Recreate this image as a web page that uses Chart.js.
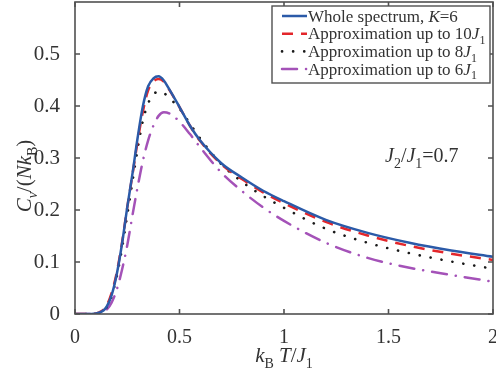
<!DOCTYPE html>
<html>
<head>
<meta charset="utf-8">
<script src="https://cdn.jsdelivr.net/npm/chart.js@4.4.1/dist/chart.umd.min.js"></script>
<style>
  html, body { margin: 0; padding: 0; background: #fff; }
  #wrap { width: 496px; height: 378px; position: relative; }
</style>
</head>
<body>
<div id="wrap"><canvas id="cvChart" width="496" height="378"></canvas></div>
<script>
// Data (k_B T / J_1 vs C_v / (N k_B))
const tempValues = [0, 0.05, 0.1, 0.125, 0.15, 0.175, 0.2, 0.225, 0.25, 0.275, 0.3, 0.325, 0.35, 0.375, 0.4, 0.425, 0.45, 0.5, 0.55, 0.6, 0.7, 0.8, 0.9, 1.0, 1.2, 1.4, 1.6, 1.8, 2.0];
const wholeSpectrum = [0, 0, 0.001, 0.004, 0.013, 0.036, 0.077, 0.135, 0.205, 0.27, 0.34, 0.4, 0.438, 0.453, 0.457, 0.449, 0.433, 0.398, 0.362, 0.333, 0.29, 0.262, 0.237, 0.217, 0.181, 0.156, 0.137, 0.122, 0.110];
const approx10J = [0, 0, 0.001, 0.005, 0.015, 0.04, 0.08, 0.137, 0.205, 0.268, 0.333, 0.39, 0.43, 0.447, 0.452, 0.447, 0.432, 0.398, 0.362, 0.332, 0.288, 0.259, 0.234, 0.213, 0.177, 0.151, 0.131, 0.116, 0.104];
const approx8J = [0, 0, 0.001, 0.004, 0.012, 0.034, 0.072, 0.126, 0.19, 0.255, 0.318, 0.372, 0.405, 0.422, 0.428, 0.425, 0.416, 0.395, 0.366, 0.337, 0.288, 0.254, 0.227, 0.204, 0.164, 0.137, 0.117, 0.101, 0.087];
const approx6J = [0, 0, 0, 0.003, 0.008, 0.022, 0.047, 0.085, 0.132, 0.19, 0.245, 0.295, 0.334, 0.362, 0.381, 0.388, 0.386, 0.37, 0.346, 0.32, 0.272, 0.236, 0.205, 0.179, 0.137, 0.108, 0.089, 0.075, 0.062];

const xTicks = [0, 0.5, 1, 1.5, 2];
const yTicks = [0, 0.1, 0.2, 0.3, 0.4, 0.5];

// Series styles
const SERIF = '"Liberation Serif", "DejaVu Serif", serif';
const series = [
  { data: wholeSpectrum, color: '#2b5aa8', dash: [], cap: 'butt', width: 2.5,
    label: [['Whole spectrum, ', 'n'], ['K', 'i'], ['=6', 'n']] },
  { data: approx10J, color: '#e3262b', dash: [11, 8], cap: 'butt', width: 2.5,
    label: [['Approximation up to 10', 'n'], ['J', 'i'], ['1', 's']] },
  { data: approx8J, color: '#1a1a1a', dash: [0.1, 11], cap: 'round', width: 2.6,
    label: [['Approximation up to 8', 'n'], ['J', 'i'], ['1', 's']] },
  { data: approx6J, color: '#a452b8', dash: [15, 9, 0.1, 9], cap: 'round', width: 2.5,
    label: [['Approximation up to 6', 'n'], ['J', 'i'], ['1', 's']] }
];

function toPoints(ys) {
  return tempValues.map((t, i) => ({ x: t, y: ys[i] }));
}

// Draw text made of parts: n = normal, i = italic, s = subscript, si = italic subscript
function fontFor(k, size) {
  const sub = k === 's' || k === 'si';
  const it = k === 'i' || k === 'si';
  return (it ? 'italic ' : '') + Math.round(sub ? size * 0.68 : size) + 'px ' + SERIF;
}
function richWidth(ctx, parts, size) {
  let w = 0;
  parts.forEach(([t, k]) => {
    ctx.font = fontFor(k, size);
    w += ctx.measureText(t).width;
  });
  return w;
}
function drawRich(ctx, parts, x, y, size) {
  let cx = x;
  ctx.textBaseline = 'alphabetic';
  ctx.textAlign = 'left';
  parts.forEach(([t, k]) => {
    ctx.font = fontFor(k, size);
    const dy = (k === 's' || k === 'si') ? size * 0.28 : 0;
    ctx.fillText(t, cx, y + dy);
    cx += ctx.measureText(t).width;
  });
  return cx - x;
}

// Box, inward ticks, axis titles, legend and annotation
const decorPlugin = {
  id: 'decor',
  afterDraw(chart) {
    const ctx = chart.ctx;
    const a = chart.chartArea;
    const xs = chart.scales.x, ys = chart.scales.y;
    ctx.save();
    ctx.strokeStyle = '#505050';
    ctx.lineWidth = 1.6;
    ctx.strokeRect(a.left, a.top, a.right - a.left, a.bottom - a.top);
    ctx.beginPath();
    xTicks.forEach(v => {
      const px = xs.getPixelForValue(v);
      ctx.moveTo(px, a.bottom); ctx.lineTo(px, a.bottom - 5);
      ctx.moveTo(px, a.top); ctx.lineTo(px, a.top + 5);
    });
    yTicks.forEach(v => {
      const py = ys.getPixelForValue(v);
      ctx.moveTo(a.left, py); ctx.lineTo(a.left + 5, py);
      ctx.moveTo(a.right, py); ctx.lineTo(a.right - 5, py);
    });
    ctx.stroke();

    ctx.fillStyle = '#333';
    // x title
    const xt = [['k', 'i'], ['B', 's'], [' T', 'i'], ['/', 'n'], ['J', 'i'], ['1', 's']];
    const xw = richWidth(ctx, xt, 21);
    drawRich(ctx, xt, (a.left + a.right) / 2 - xw / 2, 362, 21);
    // y title (rotated)
    const yt = [['C', 'i'], ['v', 'si'], ['/(', 'n'], ['N', 'i'], ['k', 'i'], ['B', 's'], [')', 'n']];
    const yw = richWidth(ctx, yt, 21);
    ctx.save();
    ctx.translate(31, 176);
    ctx.rotate(-Math.PI / 2);
    drawRich(ctx, yt, -yw / 2, 0, 21);
    ctx.restore();
    // annotation
    drawRich(ctx, [['J', 'i'], ['2', 's'], ['/', 'n'], ['J', 'i'], ['1', 's'], ['=0.7', 'n']], 385, 162, 20);

    // legend
    const lx = 272, ly = 6, lw = 218, lh = 77;
    ctx.fillStyle = '#fff';
    ctx.fillRect(lx, ly, lw, lh);
    ctx.strokeStyle = '#505050';
    ctx.lineWidth = 1.4;
    ctx.strokeRect(lx, ly, lw, lh);
    series.forEach((s, i) => {
      const yy = ly + 10 + i * 17.7;
      ctx.beginPath();
      ctx.strokeStyle = s.color;
      ctx.lineWidth = s.width;
      ctx.lineCap = s.cap;
      ctx.setLineDash(s.dash);
      ctx.moveTo(282, yy);
      ctx.lineTo(307, yy);
      ctx.stroke();
      ctx.setLineDash([]);
      ctx.fillStyle = '#333';
      drawRich(ctx, s.label, 308, yy + 5.5, 17);
    });
    ctx.restore();
  }
};

// keep plot area fixed: no extra room for half tick labels
function noEdgePadding(scale) {
  scale.paddingTop = 0;
  scale.paddingBottom = 0;
  scale.paddingLeft = 0;
  scale.paddingRight = 0;
}

const ctx = document.getElementById('cvChart').getContext('2d');
new Chart(ctx, {
  type: 'line',
  data: {
    datasets: series.map(s => ({
      data: toPoints(s.data),
      borderColor: s.color,
      borderWidth: s.width,
      borderDash: s.dash,
      borderCapStyle: s.cap,
      pointRadius: 0,
      fill: false,
      cubicInterpolationMode: 'monotone'
    }))
  },
  options: {
    responsive: false,
    animation: false,
    layout: { padding: { left: 0, right: 3, top: 2, bottom: 0 } },
    plugins: { legend: { display: false }, tooltip: { enabled: false } },
    scales: {
      x: {
        type: 'linear', min: 0, max: 2,
        afterFit: scale => { scale.height = 64; noEdgePadding(scale); },
        grid: { display: false },
        border: { display: false },
        ticks: {
          stepSize: 0.5, padding: 4, color: '#333', maxRotation: 0,
          font: { family: SERIF, size: 20 },
          callback: v => String(v)
        }
      },
      y: {
        min: 0, max: 0.6,
        afterFit: scale => { scale.width = 75; noEdgePadding(scale); },
        grid: { display: false },
        border: { display: false },
        ticks: {
          stepSize: 0.1, padding: 7, color: '#333',
          font: { family: SERIF, size: 21 },
          callback: v => v > 0.55 ? '' : (v === 0 ? '0' : v.toFixed(1))
        }
      }
    }
  },
  plugins: [decorPlugin]
});
</script>
</body>
</html>
